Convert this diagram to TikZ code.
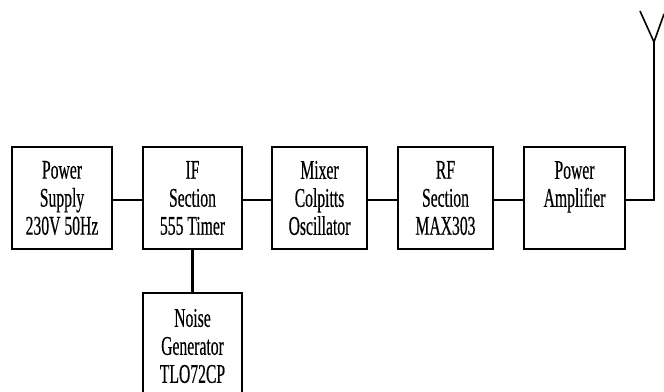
\documentclass[tikz,border=0pt]{standalone}
\usepackage{fontspec}
\newfontfamily\blockfont[FakeStretch=0.58,FakeBold=0.4]{Liberation Serif}
\tikzset{every picture/.style={line width=0.75pt}}
\tikzset{block/.style={draw, line width=1.8, minimum width=73pt, minimum height=76.5pt, inner sep=0pt, align=center, font=\fontsize{20.25}{21}\blockfont}}
\begin{document}
\begin{tikzpicture}[x=0.75pt,y=0.75pt,yscale=-1,xscale=1]
\useasboundingbox (0,0) rectangle (664,392);

%Shape: Rectangle [id:psu] 
\draw (62,198) node [block, minimum width=75pt] (psu) {Power\\Supply\\230V 50Hz};
%Shape: Rectangle [id:ifsec] 
\draw (192.5,198) node [block, minimum width=74.25pt] (ifsec) {IF\\Section\\555 Timer};
%Shape: Rectangle [id:mixer] 
\draw (319.5,198) node [block, minimum width=71.25pt] (mixer) {Mixer\\Colpitts\\Oscillator};
%Shape: Rectangle [id:rfsec] 
\draw (445.5,198) node [block, minimum width=71.25pt] (rfsec) {RF\\Section\\MAX303};
%Shape: Rectangle [id:amp] 
\draw (574.5,198) node [block, minimum width=75.75pt] (amp) {Power\\Amplifier\\~};
%Shape: Rectangle [id:noise] 
\draw (192.5,346) node [block, minimum width=74.25pt, minimum height=79.5pt] (noise) {Noise\\Generator\\TLO72CP};

%Straight Lines 
\draw [line width=1.8]    (psu.east |- 0,200) -- (ifsec.west |- 0,200) ;
\draw [line width=1.8]    (ifsec.east |- 0,200) -- (mixer.west |- 0,200) ;
\draw [line width=1.8]    (mixer.east |- 0,200) -- (rfsec.west |- 0,200) ;
\draw [line width=1.8]    (rfsec.east |- 0,200) -- (amp.west |- 0,200) ;
\draw [line width=1.8]    (ifsec.south) -- (noise.north) ;

%Antenna 
\coordinate (ant) at (654,42);
\draw [line width=1.8]    (amp.east |- 0,200) -| (ant) ;
\draw [line width=1.2]    (640,11) -- (ant) -- (664,14) ;

\end{tikzpicture}
\end{document}
